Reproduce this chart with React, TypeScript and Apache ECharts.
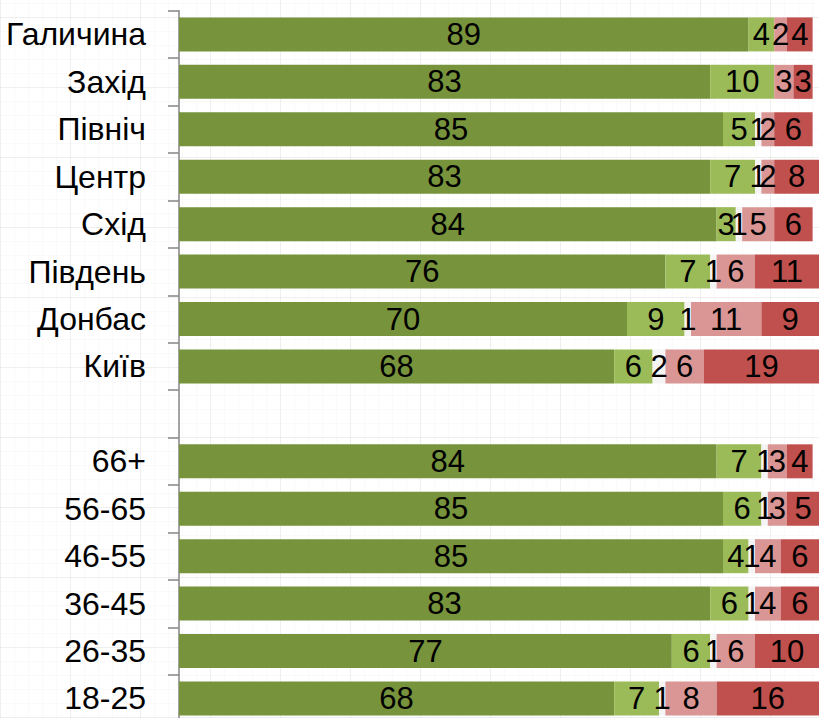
import React, { useEffect, useRef } from "react";
import * as echarts from "echarts";

const categories = [
  "Галичина", "Захід", "Північ", "Центр", "Схід", "Південь", "Донбас", "Київ",
  "",
  "66+", "56-65", "46-55", "36-45", "26-35", "18-25",
];

const seriesA = [89, 83, 85, 83, 84, 76, 70, 68, null, 84, 85, 85, 83, 77, 68];
const seriesB = [4, 10, 5, 7, 3, 7, 9, 6, null, 7, 6, 4, 6, 6, 7];
const seriesC = [0, 0, 1, 1, 1, 1, 1, 2, null, 1, 1, 1, 1, 1, 1];
const seriesD = [2, 3, 2, 2, 5, 6, 11, 6, null, 3, 3, 4, 4, 6, 8];
const seriesE = [4, 3, 6, 8, 6, 11, 9, 19, null, 4, 5, 6, 6, 10, 16];

const colors = ["#77933c", "#9bbb59", "#f4f4f4", "#d99694", "#c0504d"];
const FONT = "'Liberation Sans', Arial, sans-serif";

export default function App() {
  const ref = useRef<HTMLDivElement>(null);
  useEffect(() => {
    if (!ref.current) return;
    const chart = echarts.init(ref.current, undefined, { renderer: "svg" });
    const all = [seriesA, seriesB, seriesC, seriesD, seriesE];
    chart.setOption({
      animation: false,
      grid: {
        left: 179,
        top: 10.7,
        width: 640,
        height: 711.5,
        containLabel: false,
        outerBoundsMode: "none",
      },
      xAxis: { type: "value", min: 0, max: 100, show: false },
      yAxis: {
        type: "category",
        inverse: true,
        data: categories,
        axisLine: { show: true, lineStyle: { color: "#8c8c8c", width: 1.6 } },
        axisTick: { show: true, length: 11, lineStyle: { color: "#8c8c8c", width: 1.6 } },
        axisLabel: { margin: 33, fontSize: 32, color: "#000", fontFamily: FONT },
        splitLine: { show: false },
      },
      series: all.map((d, i) => ({
        type: "bar",
        stack: "total",
        data: d,
        barWidth: 34,
        itemStyle: { color: colors[i] },
        label: {
          show: true,
          position: "inside",
          color: "#000",
          fontSize: 31,
          fontFamily: FONT,
          formatter: (p: any) => (p.value ? String(p.value) : ""),
        },
      })),
    });
    return () => chart.dispose();
  }, []);
  return (
    <div
      ref={ref}
      style={{
        position: "absolute",
        left: 0,
        top: 0,
        width: 819,
        height: 718,
        backgroundColor: "#fff",
        backgroundImage:
          "repeating-linear-gradient(0deg, rgba(0,0,0,0.045) 0 1px, transparent 1px 70px), repeating-linear-gradient(90deg, rgba(0,0,0,0.045) 0 1px, transparent 1px 70px), repeating-linear-gradient(0deg, rgba(0,0,0,0.02) 0 1px, transparent 1px 14px), repeating-linear-gradient(90deg, rgba(0,0,0,0.02) 0 1px, transparent 1px 14px)",
      }}
    />
  );
}
